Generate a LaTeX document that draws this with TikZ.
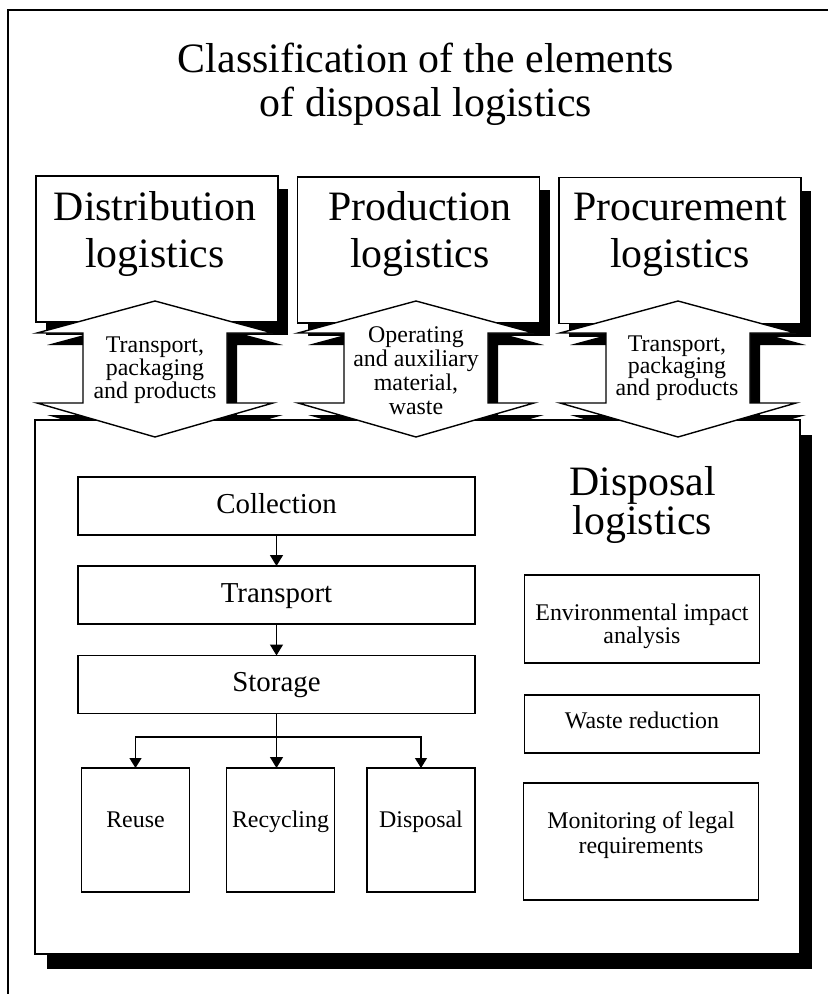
\documentclass[tikz,border=0pt]{standalone}
\usepackage{fontspec}
\setmainfont{Liberation Serif}
\usetikzlibrary{arrows.meta,shadows}

\newcommand{\fsz}[2]{\fontsize{#1}{#2}\selectfont}

\tikzset{
  % vertical double-headed arrow, origin at its upper tip
  dblarrowshape/.pic={
    \path[pic actions] (0,0) -- ++(118,32) -- ++(-46,0) -- ++(0,70) -- ++(46,0)
      -- ++(-118,34) -- ++(-118,-34) -- ++(46,0) -- ++(0,-70) -- ++(-46,0) -- cycle;
  },
  boxline/.style={draw=black, line width=1.6bp, fill=white, inner sep=0pt, outer sep=0pt},
  topbox/.style={boxline, minimum width=242bp, minimum height=146bp,
    drop shadow={shadow xshift=10bp, shadow yshift=-13bp, fill=black, opacity=1}},
  bigbox/.style={boxline, minimum width=765bp, minimum height=534bp,
    drop shadow={shadow xshift=12bp, shadow yshift=-15bp, fill=black, opacity=1}},
  flowbox/.style={boxline, minimum width=397bp, minimum height=58bp,
    font=\fsz{29}{32}, text height=20bp, text depth=6bp},
  endbox/.style={boxline, minimum width=108bp, minimum height=124bp,
    font=\fsz{24}{26}, text height=16bp, text depth=22bp},
  sidebox/.style={boxline, minimum width=235bp},
  % multi-line texts are placed by the baseline of their last line
  hugetext/.style={anchor=base, align=center, inner sep=0pt},
  arrowtext/.style={anchor=base, align=center, inner sep=0pt, font=\fsz{24}{23}},
  sidetext/.style={anchor=base, align=center, inner sep=0pt, font=\fsz{24}{24}},
  mainflow/.style={line width=1.3bp, -{Triangle[length=11bp, width=13bp]}},
  sideflow/.style={line width=1.3bp, -{Triangle[length=10bp, width=12bp]}},
}

\begin{document}
\begin{tikzpicture}[x=1bp, y=-1bp]
  \useasboundingbox (0,0) rectangle (828,994);
  \fill[white] (0,0) rectangle (828,994);

  % page frame
  \draw[line width=1.2bp] (8,994) -- (8,10) -- (828,10);

  % heading
  \node[hugetext, font=\fsz{42}{44}] (title) at (426,116)
    {Classification of the elements\\of disposal logistics};

  % the three neighbouring logistics areas
  \node[topbox] (distr) at (157,249) {};
  \node[topbox] (prod)  at (418.5,250) {};
  \node[topbox] (proc)  at (680,250.5) {};
  \node[hugetext, font=\fsz{42}{47}] (distrT) at (155,267) {Distribution\\logistics};
  \node[hugetext, font=\fsz{42}{47}] (prodT)  at (420,267) {Production\\logistics};
  \node[hugetext, font=\fsz{42}{47}] (procT)  at (680,267) {Procurement\\logistics};

  % shadows of the exchange arrows
  \foreach \cx in {155,416,678}
    \pic[fill=black] at (\cx+10,301+12) {dblarrowshape};

  % disposal logistics frame
  \node[bigbox] (disp) at (417.5,687) {};

  % exchange arrows between the areas and disposal logistics
  \foreach \cx in {155,416,678}
    \pic[draw=black, line width=1.4bp, fill=white, line join=miter] at (\cx,301) {dblarrowshape};
  \node[arrowtext] (distrA) at (155,398) {Transport,\\packaging\\and products};
  \node[arrowtext, font=\fsz{24}{24}] (prodA) at (416,414) {Operating\\and auxiliary\\material,\\waste};
  \node[arrowtext, font=\fsz{24}{22}] (procA) at (677,395) {Transport,\\packaging\\and products};

  \node[hugetext, font=\fsz{42}{39}] (dispT) at (642.5,534) {Disposal\\logistics};

  % process chain
  \node[flowbox] (coll)  at (276.5,506)   {Collection};
  \node[flowbox] (trans) at (276.5,595)   {Transport};
  \node[flowbox] (stor)  at (276.5,684.5) {Storage};
  \node[endbox] (reuse) at (135.5,830) {Reuse};
  \node[endbox] (recy)  at (280.5,830) {Recycling};
  \node[endbox] (dispo) at (421,830)   {Disposal};

  \draw[mainflow] (coll) -- (trans);
  \draw[mainflow] (trans) -- (stor);
  \coordinate (fork) at (276.5,737);
  \draw[mainflow] (stor.south) -- (stor.south |- recy.north);
  \draw[sideflow] (fork) -| (reuse.north);
  \draw[sideflow] (fork) -| (dispo.north);

  % accompanying tasks
  \node[sidebox, minimum height=88bp] (env) at (642,619) {};
  \node[sidebox, minimum height=58bp, font=\fsz{24}{24}, text height=17bp, text depth=9bp]
    (waste) at (642,724) {Waste reduction};
  \node[sidebox, minimum height=117bp] (legal) at (641,841.5) {};
  \node[sidetext, font=\fsz{24}{23}] (envT) at (642,643) {Environmental impact\\analysis};
  \node[sidetext, font=\fsz{24}{25}] (legalT) at (641,853) {Monitoring of legal\\requirements};
\end{tikzpicture}
\end{document}
